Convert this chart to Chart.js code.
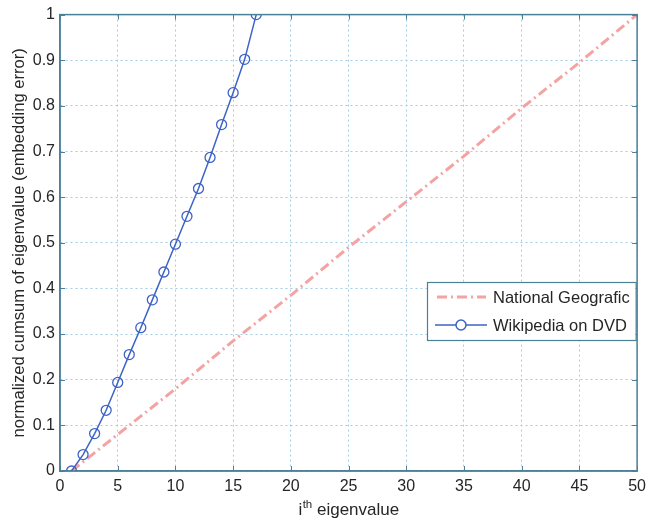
<!DOCTYPE html>
<html>
<head>
<meta charset="utf-8">
<script src="https://cdn.jsdelivr.net/npm/chart.js@4.4.1/dist/chart.umd.min.js"></script>
<style>
  html, body { margin: 0; padding: 0; background: #fff; }
  #wrap { width: 652px; height: 520px; }
</style>
</head>
<body>
<div id="wrap"><canvas id="eigChart" width="652" height="520"></canvas></div>
<script>
// series
const seriesNames = ["National Geografic", "Wikipedia on DVD"];

const natgeoX = [1, 5, 10, 15, 20, 25, 30, 35, 40, 45, 50];
const natgeoY = [0, 0.08, 0.18, 0.285, 0.385, 0.49, 0.59, 0.69, 0.795, 0.895, 1.0];

const wikiX = [1, 2, 3, 4, 5, 6, 7, 8, 9, 10, 11, 12, 13, 14, 15, 16, 17];
const wikiY = [0, 0.036, 0.082, 0.133, 0.194, 0.255, 0.314, 0.375, 0.436, 0.497,
               0.558, 0.619, 0.687, 0.759, 0.829, 0.902, 1.0];

const xTickStep = 5, xMin = 0, xMax = 50;
const yTickStep = 0.1, yMin = 0, yMax = 1;
const yTitle = "normalized cumsum of eigenvalue (embedding error)";
const xTitleMain = "i", xTitleSup = "th", xTitleRest = " eigenvalue";

const FONT = '"Liberation Sans", Arial, Helvetica, sans-serif';
const AXIS = '#4b8099';
const TEXT = '#262626';
const GRID = '#a3cbe6';
const RED = '#f4a3a3';
const BLUE = '#3d63c6';
const RED_DASH = [10, 4, 2, 4];

function pts(xs, ys) {
    return xs.map((x, i) => ({ x: x, y: ys[i] }));
}

// box, inward ticks, x title with superscript, legend
const matlabDecor = {
    id: 'matlabDecor',
    afterDraw(chart) {
        const ctx = chart.ctx;
        const a = chart.chartArea;
        const xs = chart.scales.x, ys = chart.scales.y;
        ctx.save();

        // full box
        ctx.strokeStyle = AXIS;
        ctx.lineWidth = 1.5;
        ctx.setLineDash([]);
        ctx.strokeRect(a.left, a.top, a.right - a.left, a.bottom - a.top);

        // inward ticks on all four sides
        const tl = 5;
        ctx.lineWidth = 1;
        ctx.beginPath();
        xs.ticks.forEach(t => {
            const px = Math.round(xs.getPixelForValue(t.value)) + 0.5;
            ctx.moveTo(px, a.bottom); ctx.lineTo(px, a.bottom - tl);
            ctx.moveTo(px, a.top); ctx.lineTo(px, a.top + tl);
        });
        ys.ticks.forEach(t => {
            const py = Math.round(ys.getPixelForValue(t.value)) + 0.5;
            ctx.moveTo(a.left, py); ctx.lineTo(a.left + tl, py);
            ctx.moveTo(a.right, py); ctx.lineTo(a.right - tl, py);
        });
        ctx.stroke();

        // x title with superscript
        ctx.fillStyle = TEXT;
        ctx.textBaseline = 'alphabetic';
        ctx.textAlign = 'left';
        const big = '17px ' + FONT, small = '11.5px ' + FONT;
        ctx.font = big;
        const w1 = ctx.measureText(xTitleMain).width;
        const w3 = ctx.measureText(xTitleRest).width;
        ctx.font = small;
        const w2 = ctx.measureText(xTitleSup).width;
        const cx = (a.left + a.right) / 2;
        let x0 = cx - (w1 + w2 + w3) / 2;
        const base = 515;
        ctx.font = big;
        ctx.fillText(xTitleMain, x0, base);
        ctx.font = small;
        ctx.fillText(xTitleSup, x0 + w1 + 0.5, base - 7);
        ctx.font = big;
        ctx.fillText(xTitleRest, x0 + w1 + w2 + 0.5, base);

        // legend
        ctx.font = '16.5px ' + FONT;
        const tw = Math.max(...seriesNames.map(s => ctx.measureText(s).width));
        const bx = a.left + 367, by = 282;
        const bw = 66 + tw + 6, bh = 58;
        ctx.fillStyle = '#fff';
        ctx.fillRect(bx, by, bw, bh);
        ctx.strokeStyle = AXIS;
        ctx.lineWidth = 1.2;
        ctx.strokeRect(bx + 0.5, by + 0.5, bw, bh);

        const rows = [by + 15, by + 43];
        // national geografic sample
        ctx.strokeStyle = RED;
        ctx.lineWidth = 3;
        ctx.setLineDash(RED_DASH);
        ctx.beginPath();
        ctx.moveTo(bx + 10, rows[0]); ctx.lineTo(bx + 59, rows[0]);
        ctx.stroke();
        // wikipedia sample
        ctx.setLineDash([]);
        ctx.strokeStyle = BLUE;
        ctx.lineWidth = 1.5;
        ctx.beginPath();
        ctx.moveTo(bx + 8, rows[1]); ctx.lineTo(bx + 60, rows[1]);
        ctx.stroke();
        ctx.beginPath();
        ctx.arc(bx + 34, rows[1], 5, 0, Math.PI * 2);
        ctx.fillStyle = '#fff';
        ctx.fill();
        ctx.stroke();

        ctx.fillStyle = TEXT;
        ctx.textBaseline = 'middle';
        seriesNames.forEach((s, i) => ctx.fillText(s, bx + 66, rows[i] + 1));

        ctx.restore();
    }
};

const canvas = document.getElementById('eigChart');

new Chart(canvas, {
    type: 'scatter',
    data: {
        datasets: [{
            label: seriesNames[0],
            data: pts(natgeoX, natgeoY),
            showLine: true,
            borderColor: RED,
            borderWidth: 3,
            borderDash: RED_DASH,
            pointRadius: 0,
            tension: 0,
            order: 2
        }, {
            label: seriesNames[1],
            data: pts(wikiX, wikiY),
            showLine: true,
            borderColor: BLUE,
            borderWidth: 1.5,
            pointRadius: 5,
            pointBorderWidth: 1.3,
            pointBorderColor: BLUE,
            pointBackgroundColor: 'rgba(255,255,255,0)',
            tension: 0,
            order: 1
        }]
    },
    options: {
        responsive: false,
        animation: false,
        devicePixelRatio: 1,
        layout: { padding: { left: 0, right: 7, top: 13, bottom: 0 } },
        plugins: {
            legend: { display: false },
            tooltip: { enabled: false }
        },
        scales: {
            x: {
                type: 'linear',
                min: xMin, max: xMax,
                ticks: {
                    stepSize: xTickStep,
                    color: TEXT,
                    font: { size: 16, family: FONT },
                    padding: 6,
                    maxRotation: 0
                },
                grid: { color: GRID, drawTicks: false, lineWidth: 1 },
                border: { display: true, color: AXIS, width: 1.5, dash: [2, 3] },
                afterFit(scale) { scale.height = 49; }
            },
            y: {
                type: 'linear',
                min: yMin, max: yMax,
                ticks: {
                    stepSize: yTickStep,
                    color: TEXT,
                    font: { size: 16, family: FONT },
                    padding: 5,
                    callback: v => String(Math.round(v * 10) / 10)
                },
                grid: { color: GRID, drawTicks: false, lineWidth: 1 },
                border: { display: true, color: AXIS, width: 1.5, dash: [2, 3] },
                title: {
                    display: true,
                    text: yTitle,
                    color: TEXT,
                    font: { size: 16.6, family: FONT },
                    padding: { top: 9, bottom: 0 }
                },
                afterFit(scale) { scale.width = 60; }
            }
        }
    },
    plugins: [matlabDecor]
});
</script>
</body>
</html>
